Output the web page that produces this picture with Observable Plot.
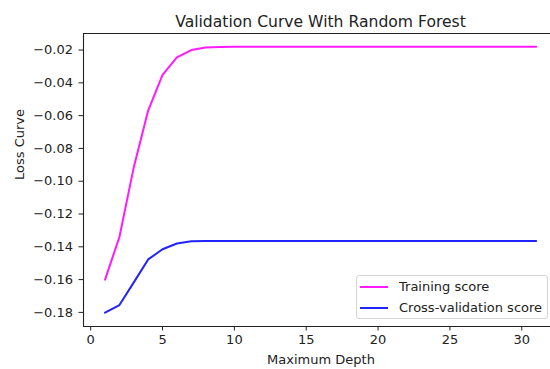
<!DOCTYPE html>
<html>
<head>
<meta charset="utf-8">
<script src="https://cdn.jsdelivr.net/npm/d3@7"></script>
<script src="https://cdn.jsdelivr.net/npm/@observablehq/plot@0.6"></script>
<style>
html, body { margin: 0; padding: 0; background: #fff; }
#wrap { position: relative; width: 550px; height: 369px; overflow: hidden; font-family: "DejaVu Sans", sans-serif; }
#legend { position: absolute; left: 356px; top: 275px; width: 192px; height: 44px; box-sizing: border-box;
  border: 1px solid #d4d4d4; border-radius: 3px; background: rgba(255,255,255,0.8); font-size: 13px; color: #222; }
#legend .row { position: absolute; left: 0; height: 20px; width: 100%; }
#legend .sw { position: absolute; left: 3px; width: 28px; height: 2px; top: 9px; }
#legend .lab { position: absolute; left: 42px; top: 2px; white-space: nowrap; line-height: 16px; }
</style>
</head>
<body>
<div id="wrap"><div id="legend"></div></div>
<script>
const title = "Validation Curve With Random Forest";
const xLabel = "Maximum Depth";
const yLabel = "Loss Curve";
const seriesNames = ["Training score", "Cross-validation score"];
const seriesColors = ["#ff1aff", "#2323ff"];

const depths = [1, 2, 3, 4, 5, 6, 7, 8, 9, 10, 11, 12, 13, 14, 15, 16, 17, 18, 19, 20, 21, 22, 23, 24, 25, 26, 27, 28, 29, 30, 31];
const trainingScore = [-0.160, -0.134, -0.0914, -0.0569, -0.0352, -0.0245, -0.0200, -0.0184, -0.0181, -0.0180,
  -0.0180, -0.0180, -0.0180, -0.0180, -0.0180, -0.0180, -0.0180, -0.0180, -0.0180, -0.0180,
  -0.0180, -0.0180, -0.0180, -0.0180, -0.0180, -0.0180, -0.0180, -0.0180, -0.0180, -0.0180, -0.0180];
const cvScore = [-0.1802, -0.1755, -0.1617, -0.1477, -0.1415, -0.1380, -0.1366, -0.1365, -0.1364, -0.1364,
  -0.1364, -0.1364, -0.1364, -0.1364, -0.1364, -0.1364, -0.1364, -0.1364, -0.1364, -0.1364,
  -0.1364, -0.1364, -0.1364, -0.1364, -0.1364, -0.1364, -0.1364, -0.1364, -0.1364, -0.1364, -0.1364];

const xTicks = [0, 5, 10, 15, 20, 25, 30];
const yTicks = [-0.02, -0.04, -0.06, -0.08, -0.10, -0.12, -0.14, -0.16, -0.18];
const xDomain = [-0.5, 32.0];
const yDomain = [-0.1886, -0.0099];

const data = [];
depths.forEach((d, i) => data.push({depth: d, score: trainingScore[i], series: seriesNames[0]}));
depths.forEach((d, i) => data.push({depth: d, score: cvScore[i], series: seriesNames[1]}));

const ink = "#222";
const chart = Plot.plot({
  width: 550,
  height: 369,
  marginLeft: 83,
  marginRight: 0,
  marginTop: 33,
  marginBottom: 43,
  style: {fontFamily: "DejaVu Sans, sans-serif", fontSize: "13px", color: ink, background: "#fff", overflow: "hidden"},
  x: {domain: xDomain, ticks: xTicks, tickSize: 4.5, tickPadding: 4, label: null},
  y: {domain: yDomain, ticks: yTicks, tickSize: 4.5, tickPadding: 6, tickFormat: d3.format(".2f"), label: null},
  color: {domain: seriesNames, range: seriesColors},
  marks: [
    Plot.line(data, {x: "depth", y: "score", z: "series", stroke: "series", strokeWidth: 2}),
    Plot.ruleY([yDomain[0]], {stroke: ink, strokeWidth: 1.1}),
    Plot.ruleY([yDomain[1]], {stroke: ink, strokeWidth: 1.1}),
    Plot.ruleX([xDomain[0]], {stroke: ink, strokeWidth: 1.1}),
    Plot.text([title], {frameAnchor: "top", lineAnchor: "bottom", dy: -6.5, dx: 3.5, fontSize: 15.6, fill: ink}),
    Plot.text([xLabel], {frameAnchor: "bottom", lineAnchor: "bottom", dy: 37, dx: 4, fontSize: 13, fill: ink}),
    Plot.text([yLabel], {frameAnchor: "left", lineAnchor: "middle", rotate: -90, dx: -64, fontSize: 13, fill: ink})
  ]
});
document.getElementById("wrap").prepend(chart);

const legend = document.getElementById("legend");
seriesNames.forEach((name, i) => {
  const row = document.createElement("div");
  row.className = "row";
  row.style.top = (i * 20.5 + 1) + "px";
  const sw = document.createElement("div");
  sw.className = "sw";
  sw.style.background = seriesColors[i];
  const lab = document.createElement("div");
  lab.className = "lab";
  lab.textContent = name;
  row.appendChild(sw);
  row.appendChild(lab);
  legend.appendChild(row);
});
</script>
</body>
</html>
